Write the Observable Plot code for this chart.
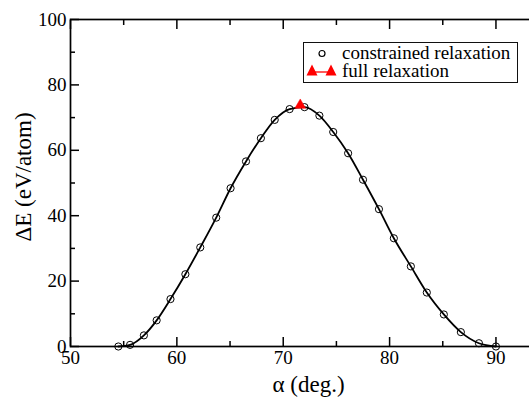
<!DOCTYPE html>
<html>
<head>
<meta charset="utf-8">
<script src="https://cdn.jsdelivr.net/npm/d3@7"></script>
<script src="https://cdn.jsdelivr.net/npm/@observablehq/plot@0.6"></script>
<style>
  html, body { margin: 0; padding: 0; background: #fff; overflow: hidden; }
  #wrap { position: relative; width: 529px; height: 398px; overflow: hidden; }
  #legend {
    position: absolute; left: 303px; top: 42px; width: 213px; height: 39px;
    border: 1.5px solid #111; background: #fff;
    font-family: 'Liberation Serif', 'Tinos', 'Times New Roman', serif; font-size: 19px; color: #000;
  }
  #legend .row { position: absolute; left: 0; width: 213px; height: 19px; line-height: 19px; white-space: nowrap; }
  #legend svg { position: absolute; left: 0; top: 0; }
  #legend span { position: absolute; left: 38px; top: 0; }
</style>
</head>
<body>
<div id="wrap"></div>
<script>
// constrained relaxation: angle alpha (deg.) and energy ΔE (eV/atom)
const alpha = [54.5, 55.6, 56.9, 58.1, 59.4, 60.8, 62.2, 63.7, 65.05, 66.5, 67.9, 69.2, 70.6, 72.0, 73.4, 74.7, 76.1, 77.5, 79.0, 80.4, 82.0, 83.5, 85.1, 86.7, 88.4, 90.0];
const dE    = [0, 0.5, 3.4, 8.0, 14.5, 22.1, 30.3, 39.4, 48.4, 56.6, 63.7, 69.3, 72.6, 73.2, 70.6, 65.6, 59.1, 51.0, 42.0, 33.1, 24.5, 16.5, 9.8, 4.4, 1.0, 0];
// full relaxation
const fullAlpha = [71.6];
const fullDE = [73.8];
// ticks
const xMajor = [50, 60, 70, 80, 90];
const xMinor = [55, 65, 75, 85];
const yMajor = [0, 20, 40, 60, 80, 100];
const yMinor = [10, 30, 50, 70, 90];
const seriesNames = ["constrained relaxation", "full relaxation"];
const xTitle = "α (deg.)";
const yTitle = "ΔE (eV/atom)";

const constrained = alpha.map((a, i) => ({alpha: a, dE: dE[i]}));
const full = fullAlpha.map((a, i) => ({alpha: a, dE: fullDE[i]}));

const font = "'Liberation Serif', 'Tinos', 'Times New Roman', serif";

const chart = Plot.plot({
  width: 538,
  height: 398,
  marginLeft: 70,
  marginRight: 0,
  marginTop: 19,
  marginBottom: 52,
  style: {fontFamily: font, fontSize: "19px", color: "#000", background: "#fff", overflow: "visible", maxWidth: "none"},
  x: {domain: [50, 94]},
  y: {domain: [0, 100]},
  marks: [
    Plot.axisX(xMajor, {anchor: "bottom", tickSize: -9, text: null, strokeWidth: 1.5, label: null}),
    Plot.axisX(xMinor, {anchor: "bottom", tickSize: -5, text: null, strokeWidth: 1.5, label: null}),
    Plot.axisX(xMajor, {anchor: "top", tickSize: -9, text: null, strokeWidth: 1.5, label: null}),
    Plot.axisX(xMinor, {anchor: "top", tickSize: -5, text: null, strokeWidth: 1.5, label: null}),
    Plot.axisY(yMajor, {anchor: "left", tickSize: -9, text: null, strokeWidth: 1.5, label: null}),
    Plot.axisY(yMinor, {anchor: "left", tickSize: -5, text: null, strokeWidth: 1.5, label: null}),
    Plot.axisY(yMajor, {anchor: "right", tickSize: -9, text: null, strokeWidth: 1.5, label: null}),
    Plot.axisY(yMinor, {anchor: "right", tickSize: -5, text: null, strokeWidth: 1.5, label: null}),
    Plot.axisX(xMajor, {anchor: "bottom", tickSize: 0, tickPadding: 4, label: null, fontSize: 19, fill: "#000"}),
    Plot.axisY(yMajor, {anchor: "left", tickSize: 0, tickPadding: 4, label: null, fontSize: 19, fill: "#000"}),
    Plot.frame({stroke: "#000", strokeWidth: 1.7}),
    Plot.text([xTitle], {frameAnchor: "bottom", dy: 38, dx: 4, fontSize: 23, fill: "#000", textAnchor: "middle", lineAnchor: "middle"}),
    Plot.text([yTitle], {frameAnchor: "left", dx: -47, dy: -6, rotate: -90, fontSize: 23, fill: "#000", textAnchor: "middle", lineAnchor: "middle"}),
    Plot.line(constrained, {x: "alpha", y: "dE", curve: "monotone-x", stroke: "#000", strokeWidth: 1.8}),
    Plot.dot(constrained, {x: "alpha", y: "dE", r: 3.6, stroke: "#000", strokeWidth: 1, fill: "none"}),
    Plot.line(full, {x: "alpha", y: "dE", stroke: "#f00", strokeWidth: 1}),
    Plot.dot(full, {x: "alpha", y: "dE", symbol: "triangle", r: 4, fill: "#f00", stroke: "#f00", strokeWidth: 0.5})
  ]
});

const wrap = document.getElementById("wrap");
wrap.appendChild(chart);

const legend = document.createElement("div");
legend.id = "legend";
legend.innerHTML = `
  <div class="row" style="top:0px">
    <svg width="38" height="19"><circle cx="18" cy="10.5" r="3" fill="none" stroke="#000" stroke-width="1.2"/></svg>
    <span>${seriesNames[0]}</span>
  </div>
  <div class="row" style="top:18px">
    <svg width="38" height="19">
      <line x1="8" y1="11" x2="27" y2="11" stroke="#f00" stroke-width="1.3"/>
      <path d="M8,3.5 L13.5,14.5 L2.5,14.5 Z" fill="#f00"/>
      <path d="M27,3.5 L32.5,14.5 L21.5,14.5 Z" fill="#f00"/>
    </svg>
    <span>${seriesNames[1]}</span>
  </div>`;
wrap.appendChild(legend);
</script>
</body>
</html>
